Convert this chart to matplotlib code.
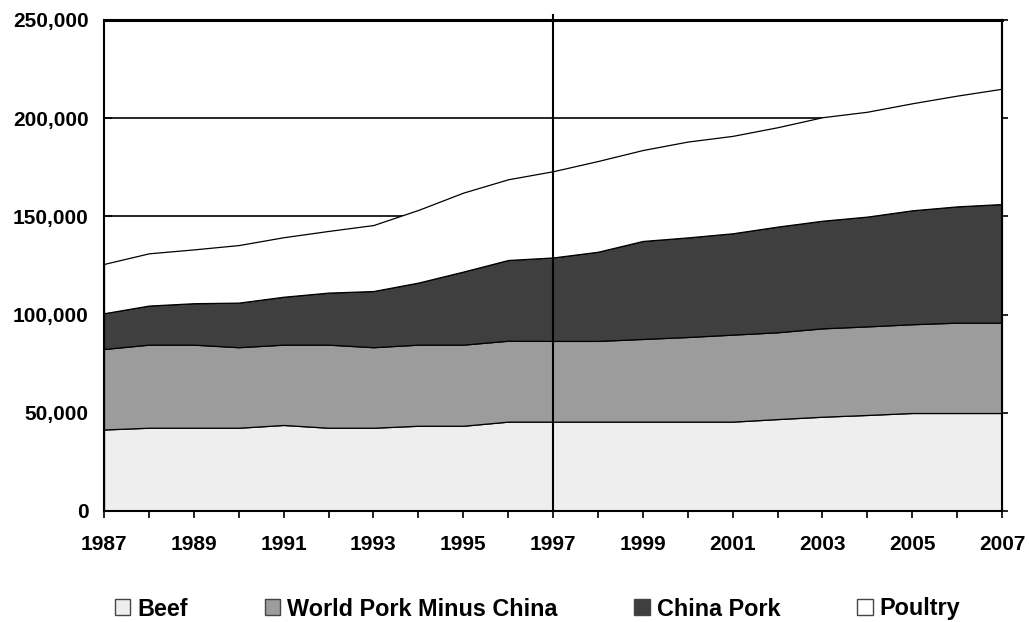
import matplotlib
matplotlib.use('Agg')
import matplotlib.pyplot as plt
from matplotlib.patches import Patch
from matplotlib.ticker import FuncFormatter

years = list(range(1987, 2008))
beef = [41500, 42400, 42400, 42400, 43800, 42400, 42400, 43400, 43400, 45500, 45500,
        45500, 45500, 45500, 45500, 46800, 48000, 48900, 49900, 49900, 49900]
world_pork = [41000, 42300, 42300, 41000, 40900, 42300, 41000, 41300, 41300, 41200, 41100,
              41100, 42100, 43100, 44300, 44200, 45000, 45100, 45200, 46000, 46000]
china_pork = [18200, 19900, 21100, 22700, 24400, 26500, 28600, 31600, 37200, 41100, 42500,
              45400, 49900, 50700, 51600, 53800, 54800, 55900, 58000, 59200, 60400]
poultry = [25100, 26600, 27400, 29300, 30300, 31400, 33600, 37000, 40200, 41100, 43900,
           46200, 46300, 48800, 49600, 50600, 52700, 53400, 54500, 56400, 58700]
series_names = ['Beef', 'World Pork Minus China', 'China Pork', 'Poultry']
colors = ['#eeeeee', '#9c9c9c', '#3f3f3f', '#ffffff']
label_years = list(range(1987, 2008, 2))
y_ticks = [0, 50000, 100000, 150000, 200000, 250000]

plt.rcParams['font.family'] = ['Liberation Sans', 'DejaVu Sans']
plt.rcParams['font.weight'] = 'bold'
plt.rcParams['font.size'] = 15

fig = plt.figure(figsize=(10.29, 6.22), dpi=100)
ax = fig.add_axes([104/1029, 1-511/622, (1002-104)/1029, (511-20)/622])
ax.set_axisbelow(True)
ax.set_yticks(y_ticks)
ax.yaxis.grid(True, color='black', lw=1.2, zorder=0)
ax.stackplot(years, beef, world_pork, china_pork, poultry, colors=colors,
             edgecolor='black', linewidth=0.9, zorder=2)
ax.axvline(1997, ymin=0, ymax=1.01, color='black', lw=1.5, clip_on=False, zorder=5)
ax.set_xlim(1987, 2007)
ax.set_ylim(0, 250000)

ax.set_xticks(label_years)
ax.set_xticks(years, minor=True)
ax.tick_params(axis='x', which='both', direction='out', length=5, width=1.2, pad=12)
ax.tick_params(axis='y', direction='in', length=6, width=1.2, pad=11)
ax.yaxis.set_major_formatter(FuncFormatter(lambda v, p: f'{int(v):,}'))
for s in ax.spines.values():
    s.set_linewidth(1.5)
    s.set_zorder(6)
ax.spines['top'].set_linewidth(2.2)

sec = ax.secondary_yaxis('right')
sec.set_yticks(y_ticks)
sec.set_yticklabels([])
sec.tick_params(direction='out', length=4, width=1.2)
sec.spines['right'].set_linewidth(1.5)

handles = [Patch(facecolor=c, edgecolor='#444444', linewidth=1.0) for c in colors]
fig.legend(handles, series_names, loc='center', bbox_to_anchor=(537.5/1029, 1-609/622),
           ncol=4, frameon=False, handlelength=0.66, handleheight=0.66,
           handletextpad=0.3, columnspacing=3.3, borderaxespad=0, borderpad=0,
           fontsize=16.8)

fig.savefig('out.png', dpi=100)
